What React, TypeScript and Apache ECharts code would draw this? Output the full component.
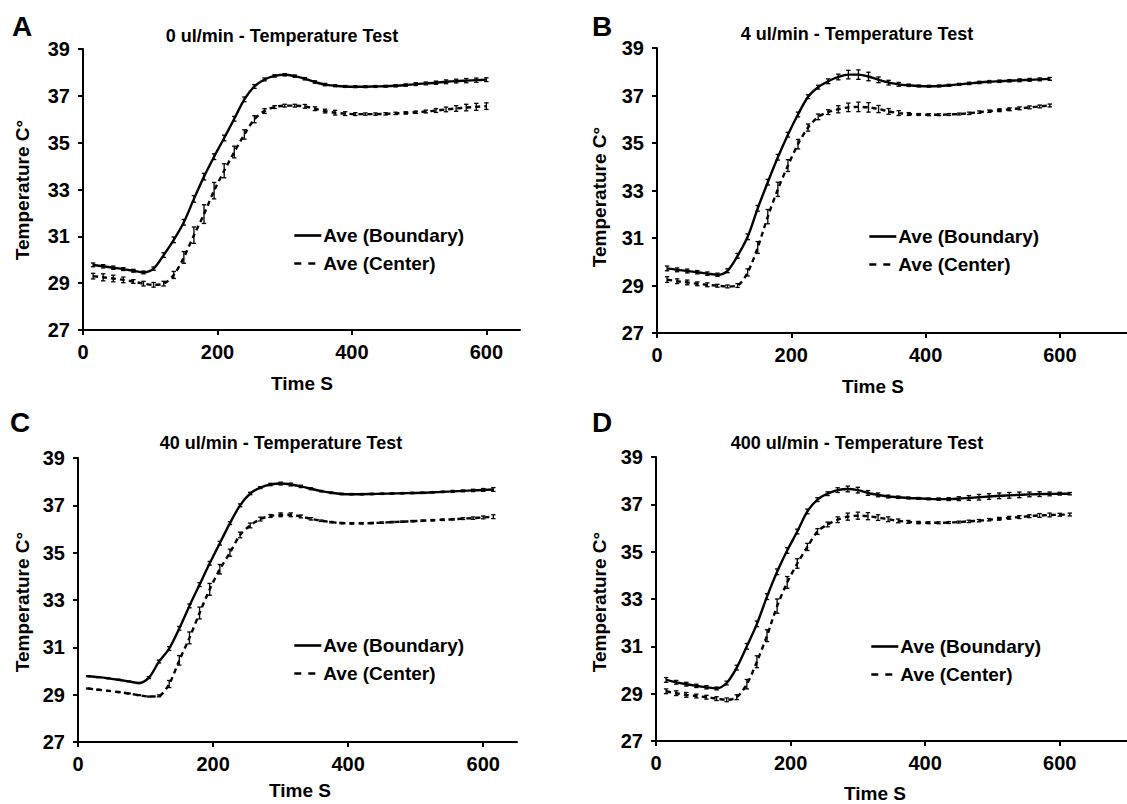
import React, { useEffect, useRef } from "react";
import * as echarts from "echarts";

// ---------- DATA ----------
const timeA = [15,30,45,60,75,90,105,120,135,150,165,180,195,210,225,240,255,270,285,300,315,330,345,360,375,390,405,420,435,450,465,480,495,510,525,540,555,570,585,600];
const boundaryA = [29.78,29.72,29.66,29.6,29.53,29.46,29.62,30.2,30.85,31.6,32.6,33.55,34.4,35.2,36.02,36.85,37.4,37.7,37.85,37.9,37.84,37.73,37.59,37.48,37.43,37.4,37.39,37.39,37.4,37.41,37.43,37.46,37.5,37.53,37.56,37.6,37.63,37.65,37.67,37.69];
const boundaryErrA = [0.08,0.07,0.07,0.06,0.06,0.06,0.07,0.1,0.12,0.12,0.14,0.14,0.12,0.12,0.1,0.1,0.08,0.06,0.05,0.05,0.05,0.05,0.05,0.05,0.04,0.04,0.04,0.04,0.04,0.04,0.05,0.05,0.06,0.06,0.07,0.08,0.08,0.09,0.09,0.08];
const centerA = [29.3,29.25,29.2,29.14,29.07,28.98,28.93,28.98,29.35,30.1,31.05,31.95,32.95,33.8,34.6,35.35,36.0,36.35,36.52,36.58,36.58,36.55,36.45,36.35,36.28,36.24,36.22,36.22,36.22,36.23,36.25,36.27,36.3,36.33,36.37,36.42,36.46,36.5,36.53,36.56];
const centerErrA = [0.12,0.15,0.14,0.12,0.08,0.1,0.1,0.1,0.15,0.25,0.35,0.4,0.35,0.3,0.25,0.2,0.15,0.1,0.06,0.06,0.06,0.08,0.08,0.08,0.1,0.08,0.06,0.05,0.05,0.05,0.05,0.05,0.05,0.06,0.08,0.1,0.12,0.14,0.15,0.14];

const timeB = [15,30,45,60,75,90,105,120,135,150,165,180,195,210,225,240,255,270,285,300,315,330,345,360,375,390,405,420,435,450,465,480,495,510,525,540,555,570,585];
const boundaryB = [29.72,29.66,29.61,29.56,29.5,29.45,29.62,30.25,31.05,32.25,33.35,34.4,35.35,36.2,36.95,37.35,37.6,37.78,37.88,37.88,37.8,37.66,37.54,37.47,37.43,37.4,37.39,37.4,37.43,37.47,37.51,37.55,37.58,37.6,37.62,37.64,37.66,37.68,37.7];
const boundaryErrB = [0.1,0.08,0.08,0.07,0.07,0.07,0.08,0.1,0.12,0.12,0.12,0.12,0.1,0.1,0.08,0.08,0.1,0.12,0.18,0.2,0.18,0.12,0.1,0.08,0.05,0.04,0.04,0.04,0.04,0.04,0.05,0.05,0.05,0.05,0.05,0.06,0.06,0.06,0.06];
const centerB = [29.25,29.18,29.13,29.07,29.03,28.99,28.96,29.0,29.55,30.6,31.9,33.05,34.05,34.95,35.65,36.1,36.3,36.42,36.5,36.52,36.5,36.43,36.33,36.26,36.22,36.2,36.19,36.19,36.2,36.22,36.25,36.3,36.34,36.38,36.42,36.46,36.5,36.54,36.58];
const centerErrB = [0.12,0.1,0.1,0.08,0.08,0.06,0.06,0.08,0.15,0.25,0.3,0.3,0.25,0.2,0.15,0.12,0.1,0.15,0.18,0.2,0.2,0.15,0.12,0.1,0.06,0.04,0.04,0.04,0.04,0.04,0.05,0.05,0.05,0.06,0.06,0.06,0.06,0.06,0.06];

const timeC = [15,30,45,60,75,90,105,120,135,150,165,180,195,210,225,240,255,270,285,300,315,330,345,360,375,390,405,420,435,450,465,480,495,510,525,540,555,570,585,600,615];
const boundaryC = [29.78,29.74,29.69,29.63,29.56,29.49,29.72,30.4,30.95,31.8,32.75,33.65,34.55,35.4,36.25,37.0,37.5,37.75,37.88,37.92,37.88,37.8,37.7,37.6,37.53,37.48,37.47,37.47,37.48,37.49,37.5,37.51,37.52,37.53,37.55,37.57,37.59,37.61,37.63,37.65,37.67];
const boundaryErrC = [0.02,0.02,0.02,0.02,0.02,0.02,0.04,0.06,0.08,0.08,0.08,0.08,0.08,0.08,0.06,0.06,0.05,0.04,0.05,0.06,0.06,0.05,0.04,0.03,0.03,0.03,0.03,0.03,0.03,0.03,0.03,0.03,0.03,0.03,0.03,0.03,0.04,0.04,0.05,0.06,0.08];
const centerC = [29.26,29.21,29.16,29.11,29.05,28.98,28.92,28.95,29.45,30.45,31.4,32.45,33.45,34.3,35.0,35.75,36.15,36.42,36.55,36.6,36.6,36.53,36.43,36.35,36.29,36.25,36.24,36.24,36.25,36.27,36.29,36.31,36.33,36.35,36.37,36.39,36.41,36.44,36.46,36.49,36.52];
const centerErrC = [0.02,0.02,0.02,0.02,0.02,0.02,0.02,0.04,0.15,0.2,0.25,0.25,0.25,0.2,0.15,0.12,0.1,0.08,0.06,0.08,0.08,0.06,0.05,0.03,0.03,0.03,0.03,0.03,0.03,0.03,0.03,0.03,0.03,0.03,0.03,0.03,0.03,0.04,0.05,0.06,0.08];

const timeD = [15,30,45,60,75,90,105,120,135,150,165,180,195,210,225,240,255,270,285,300,315,330,345,360,375,390,405,420,435,450,465,480,495,510,525,540,555,570,585,600,615];
const boundaryD = [29.58,29.48,29.4,29.33,29.27,29.22,29.45,30.1,31.0,31.95,33.1,34.15,35.05,35.85,36.7,37.2,37.45,37.6,37.65,37.6,37.48,37.4,37.33,37.3,37.27,37.25,37.23,37.22,37.22,37.24,37.27,37.3,37.33,37.36,37.38,37.4,37.42,37.43,37.44,37.45,37.45];
const boundaryErrD = [0.1,0.08,0.08,0.07,0.07,0.06,0.08,0.1,0.12,0.12,0.12,0.12,0.12,0.1,0.1,0.08,0.08,0.1,0.12,0.12,0.1,0.08,0.06,0.05,0.04,0.04,0.04,0.05,0.06,0.08,0.1,0.12,0.12,0.12,0.12,0.12,0.1,0.1,0.08,0.06,0.05];
const centerD = [29.1,29.02,28.95,28.9,28.85,28.79,28.74,28.85,29.4,30.35,31.45,32.7,33.7,34.5,35.2,35.85,36.15,36.35,36.48,36.52,36.5,36.44,36.37,36.3,36.26,36.23,36.22,36.22,36.23,36.25,36.28,36.31,36.35,36.39,36.43,36.46,36.5,36.53,36.55,36.56,36.57];
const centerErrD = [0.1,0.1,0.1,0.08,0.08,0.08,0.08,0.1,0.2,0.25,0.25,0.3,0.25,0.2,0.15,0.12,0.1,0.12,0.15,0.15,0.15,0.12,0.1,0.08,0.06,0.05,0.04,0.04,0.04,0.04,0.05,0.05,0.05,0.06,0.06,0.06,0.06,0.08,0.08,0.06,0.06];

const panelLetters = ["A", "B", "C", "D"];
const panelTitles = [
  "0 ul/min - Temperature Test",
  "4 ul/min - Temperature Test",
  "40 ul/min - Temperature Test",
  "400 ul/min - Temperature Test",
];
const seriesNames = ["Ave (Boundary)", "Ave (Center)"];
const xTicks = [0, 200, 400, 600];
const yTicks = [27, 29, 31, 33, 35, 37, 39];
const yAxisTitle = "Temperature C°";
const xAxisTitle = "Time S";

// ---------- LAYOUT ----------
const FONT = "Liberation Sans, Arial, sans-serif";
const layouts = [
  { left: 83, top: 49, width: 437, height: 281, xMax: 650 },
  { left: 657, top: 48, width: 470, height: 285, xMax: 700 },
  { left: 78, top: 458, width: 439, height: 284, xMax: 650 },
  { left: 656, top: 457, width: 471, height: 284, xMax: 700 },
];
const letterPos = [[12, 26], [592, 26], [10, 422], [592, 422]];
const titlePos = [[282, 36], [857, 34], [281, 443], [857, 443]];
const yTitlePos = [[22, 190], [599, 197], [22, 602], [599, 602]];
const xTitlePos = [[302, 383], [873, 386], [300, 790], [875, 793]];
const legendPos = [[293, 226], [868, 227], [293, 636], [870, 637]];

const panels = [
  { t: timeA, b: boundaryA, be: boundaryErrA, c: centerA, ce: centerErrA },
  { t: timeB, b: boundaryB, be: boundaryErrB, c: centerB, ce: centerErrB },
  { t: timeC, b: boundaryC, be: boundaryErrC, c: centerC, ce: centerErrC },
  { t: timeD, b: boundaryD, be: boundaryErrD, c: centerD, ce: centerErrD },
];

function errRender(params: any, api: any) {
  const x = api.value(0);
  const y = api.value(1);
  const e = api.value(2);
  const top = api.coord([x, y + e]);
  const bot = api.coord([x, y - e]);
  const w = 2.2;
  const st = { stroke: "#000", lineWidth: 1.3 };
  return {
    type: "group",
    children: [
      { type: "line", shape: { x1: top[0], y1: top[1], x2: bot[0], y2: bot[1] }, style: st },
      { type: "line", shape: { x1: top[0] - w, y1: top[1], x2: top[0] + w, y2: top[1] }, style: st },
      { type: "line", shape: { x1: bot[0] - w, y1: bot[1], x2: bot[0] + w, y2: bot[1] }, style: st },
    ],
  };
}

function buildOption() {
  const grid: any[] = [];
  const xAxis: any[] = [];
  const yAxis: any[] = [];
  const series: any[] = [];
  const legend: any[] = [];
  const graphic: any[] = [];
  const axisLine = { show: true, lineStyle: { color: "#000", width: 2 } };
  const axisTick = { show: true, inside: false, length: 5, lineStyle: { color: "#000", width: 2 } };
  const labelStyle = { color: "#000", fontFamily: FONT, fontWeight: "bold", fontSize: 20 };

  layouts.forEach((L, i) => {
    const P = panels[i];
    grid.push({ left: L.left, top: L.top, width: L.width, height: L.height, containLabel: false });
    xAxis.push({
      type: "value", gridIndex: i, min: 0, max: L.xMax, interval: 200,
      axisLine, axisTick: { ...axisTick, customValues: xTicks },
      axisLabel: { ...labelStyle, margin: 12, customValues: xTicks },
      splitLine: { show: false },
    });
    yAxis.push({
      type: "value", gridIndex: i, min: yTicks[0], max: yTicks[yTicks.length - 1], interval: 2,
      axisLine, axisTick, axisLabel: { ...labelStyle, margin: 13 },
      splitLine: { show: false },
    });
    const bData = P.t.map((t, k) => [t, P.b[k]]);
    const cData = P.t.map((t, k) => [t, P.c[k]]);
    series.push({
      name: seriesNames[0], type: "line", xAxisIndex: i, yAxisIndex: i, data: bData,
      symbol: "none", smooth: 0.3, lineStyle: { color: "#000", width: 2.4, type: "solid" },
      itemStyle: { color: "#000" }, z: 3,
    });
    series.push({
      name: seriesNames[1], type: "line", xAxisIndex: i, yAxisIndex: i, data: cData,
      symbol: "none", smooth: 0.3, lineStyle: { color: "#000", width: 2.4, type: [5, 4] },
      itemStyle: { color: "#000" }, z: 3,
    });
    series.push({
      type: "custom", xAxisIndex: i, yAxisIndex: i, renderItem: errRender,
      data: P.t.map((t, k) => [t, P.b[k], P.be[k]]), encode: { x: 0, y: 1 }, z: 4, silent: true,
    });
    series.push({
      type: "custom", xAxisIndex: i, yAxisIndex: i, renderItem: errRender,
      data: P.t.map((t, k) => [t, P.c[k], P.ce[k]]), encode: { x: 0, y: 1 }, z: 4, silent: true,
    });
    legend.push({
      data: [
        { name: seriesNames[0], lineStyle: { type: "solid", width: 2.6, color: "#000" } },
        { name: seriesNames[1], lineStyle: { type: [7, 7], width: 2.6, color: "#000" } },
      ],
      orient: "vertical", left: legendPos[i][0], top: legendPos[i][1],
      itemWidth: 27, itemHeight: 14, itemGap: 9, padding: 0, selectedMode: false,
      itemStyle: { opacity: 0, borderWidth: 0 },
      textStyle: { color: "#000", fontFamily: FONT, fontWeight: "bold", fontSize: 19, padding: [0, 0, 0, -3] },
    });
    graphic.push({
      type: "text", x: letterPos[i][0], y: letterPos[i][1],
      style: { text: panelLetters[i], font: `bold 28px ${FONT}`, fill: "#000", align: "left", verticalAlign: "middle" },
    });
    graphic.push({
      type: "text", x: titlePos[i][0], y: titlePos[i][1],
      style: { text: panelTitles[i], font: `bold 18px ${FONT}`, fill: "#000", align: "center", verticalAlign: "middle" },
    });
    graphic.push({
      type: "text", x: yTitlePos[i][0], y: yTitlePos[i][1], rotation: Math.PI / 2,
      style: { text: yAxisTitle, font: `bold 19px ${FONT}`, fill: "#000", align: "center", verticalAlign: "middle" },
    });
    graphic.push({
      type: "text", x: xTitlePos[i][0], y: xTitlePos[i][1],
      style: { text: xAxisTitle, font: `bold 19px ${FONT}`, fill: "#000", align: "center", verticalAlign: "middle" },
    });
  });

  return {
    animation: false,
    backgroundColor: "#fff",
    grid, xAxis, yAxis, series, legend, graphic,
  };
}

export default function App() {
  const ref = useRef<HTMLDivElement>(null);
  useEffect(() => {
    if (!ref.current) return;
    const chart = echarts.init(ref.current, null, { renderer: "svg" });
    chart.setOption(buildOption() as any);
    return () => chart.dispose();
  }, []);
  return (
    <div
      ref={ref}
      style={{ position: "fixed", left: 0, top: 0, width: 1127, height: 804, background: "#fff" }}
    />
  );
}
